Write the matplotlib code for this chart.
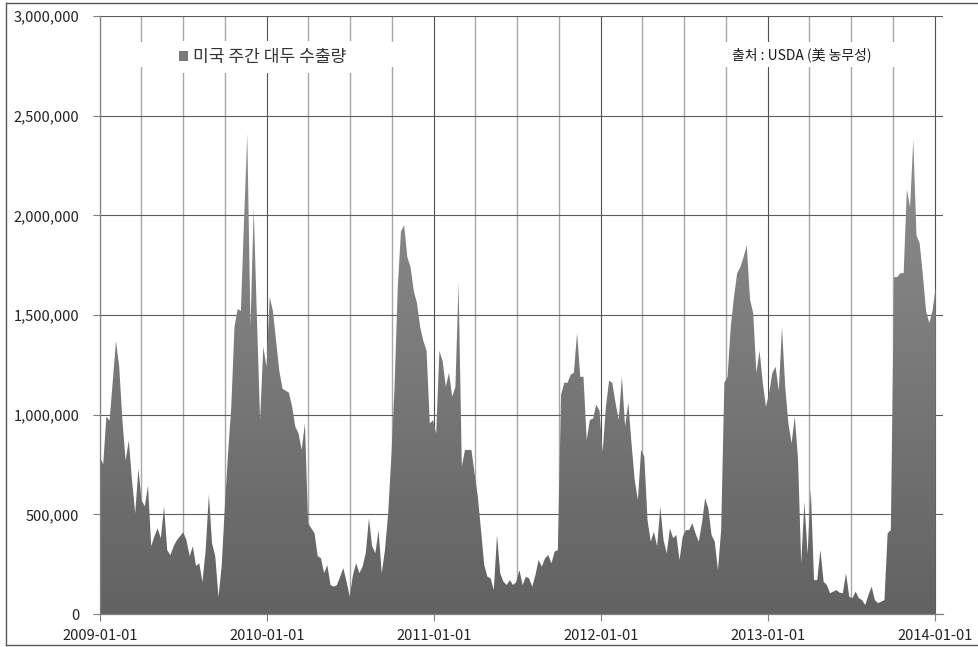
import numpy as np
import pandas as pd
import matplotlib
matplotlib.use("Agg")
import matplotlib.pyplot as plt
import matplotlib.dates as mdates
from matplotlib.ticker import FuncFormatter, FixedLocator
from matplotlib.colors import LinearSegmentedColormap
from matplotlib.lines import Line2D
from matplotlib.patches import Patch, Rectangle

plt.rcParams['font.family'] = ['Noto Sans CJK KR', 'DejaVu Sans']

# Weekly US soybean export volumes (tonnes), one value per week from 2009-01-01
first_week = "2009-01-01"
weekly_exports = [
    790000, 750000, 990000, 970000, 1170000, 1370000, 1240000, 970000, 770000, 870000,
    670000, 505000, 730000, 570000, 540000, 645000, 340000, 390000, 430000, 380000,
    540000, 320000, 295000, 340000, 370000, 390000, 410000, 370000, 290000, 340000,
    240000, 255000, 160000, 320000, 600000, 355000, 290000, 85000, 240000, 540000,
    805000, 1040000, 1440000, 1530000, 1520000, 1980000, 2410000, 1440000, 2040000, 1490000,
    973000, 1340000, 1240000, 1590000, 1520000, 1370000, 1220000, 1130000, 1120000, 1110000,
    1040000, 940000, 906000, 823000, 956000, 455000, 430000, 405000, 290000, 280000,
    205000, 245000, 145000, 137000, 145000, 187000, 230000, 162000, 87000, 195000,
    255000, 205000, 237000, 305000, 480000, 340000, 305000, 420000, 204000, 321000,
    505000, 790000, 1140000, 1640000, 1920000, 1950000, 1790000, 1740000, 1620000, 1560000,
    1440000, 1370000, 1320000, 956000, 973000, 906000, 1320000, 1270000, 1140000, 1210000,
    1090000, 1140000, 1660000, 740000, 823000, 823000, 823000, 705000, 589000, 421000,
    246000, 187000, 179000, 120000, 396000, 204000, 162000, 145000, 170000, 145000,
    160000, 220000, 145000, 187000, 179000, 137000, 196000, 271000, 237000, 279000,
    296000, 254000, 313000, 321000, 1100000, 1160000, 1160000, 1200000, 1210000, 1410000,
    1190000, 1190000, 873000, 973000, 981000, 1050000, 1020000, 814000, 1040000, 1170000,
    1160000, 1060000, 973000, 1190000, 940000, 1060000, 856000, 672000, 572000, 823000,
    789000, 471000, 363000, 413000, 340000, 538000, 371000, 304000, 430000, 380000,
    396000, 271000, 388000, 421000, 421000, 455000, 405000, 363000, 455000, 580000,
    530000, 396000, 363000, 220000, 421000, 1160000, 1190000, 1440000, 1590000, 1710000,
    1740000, 1790000, 1850000, 1580000, 1510000, 1210000, 1320000, 1160000, 1040000, 1110000,
    1210000, 1240000, 1120000, 1440000, 1140000, 956000, 856000, 990000, 780000, 254000,
    563000, 300000, 630000, 170000, 170000, 321000, 162000, 145000, 104000, 112000,
    120000, 107000, 104000, 204000, 87000, 79000, 112000, 79000, 70000, 45000,
    95000, 137000, 70000, 54000, 62000, 70000, 405000, 421000, 1690000, 1690000,
    1710000, 1710000, 2130000, 2040000, 2380000, 1900000, 1860000, 1700000, 1520000, 1460000,
    1520000, 1640000,
]
week_dates = pd.date_range(first_week, periods=len(weekly_exports), freq="7D")

series_label = "미국 주간 대두 수출량"
source_note = "출처 : USDA (美 농무성)"
y_ticks = [0, 500000, 1000000, 1500000, 2000000, 2500000, 3000000]
x_start, x_end = pd.Timestamp("2009-01-01"), pd.Timestamp("2014-01-18")

fig = plt.figure(figsize=(9.79, 6.47), dpi=100)
ax = fig.add_axes([100 / 979, 1 - 614 / 647, 843 / 979, 598 / 647])

# area under the weekly series, filled with a vertical grey gradient
area = ax.fill_between(week_dates, weekly_exports, 0, facecolor="none",
                       edgecolor="none", zorder=2)
xnum = mdates.date2num(week_dates)
shade = LinearSegmentedColormap.from_list("shade", ["#626262", "#9a9a9a"])
grad = np.linspace(0, 1, 256).reshape(-1, 1)
img = ax.imshow(grad, cmap=shade, origin="lower", aspect="auto",
                extent=[xnum[0], xnum[-1], 0, y_ticks[-1]],
                interpolation="bilinear", zorder=2)
img.set_clip_path(area.get_paths()[0], transform=ax.transData)

ax.set_xlim(x_start, x_end)
ax.set_ylim(0, y_ticks[-1])
ax.set_aspect("auto")

# axes, ticks and grid
ax.yaxis.set_major_locator(FixedLocator(y_ticks))
ax.yaxis.set_major_formatter(FuncFormatter(lambda v, p: f"{v:,.0f}"))
ax.xaxis.set_major_locator(mdates.YearLocator())
ax.xaxis.set_minor_locator(mdates.MonthLocator(bymonth=[4, 7, 10]))
ax.xaxis.set_major_formatter(mdates.DateFormatter("%Y-%m-%d"))

ax.set_axisbelow(True)
ax.grid(True, axis="y", which="major", color="#5c5c5c", lw=0.8)
ax.grid(True, axis="x", which="major", color="#505050", lw=0.8)
ax.grid(True, axis="x", which="minor", color="#a8a8a8", lw=1.0)

for side in ("top", "right"):
    ax.spines[side].set_visible(False)
for side in ("left", "bottom"):
    ax.spines[side].set_color("#808080")
    ax.spines[side].set_linewidth(0.9)

ax.tick_params(axis="y", which="major", length=5, width=0.8, color="#808080",
               pad=10, labelsize=10.5, labelcolor="#222222")
ax.tick_params(axis="x", which="major", length=5, width=0.8, color="#808080",
               pad=6, labelsize=10.5, labelcolor="#222222")
ax.tick_params(axis="x", which="minor", length=0)

# white backing boxes behind the legend and the source note
for x0, x1 in ((125, 415), (700, 915)):
    ax.add_patch(Rectangle(((x0 - 100) / 843, (614 - 67) / 598), (x1 - x0) / 843, 25 / 598,
                           transform=ax.transAxes, facecolor="white", edgecolor="none",
                           zorder=1))

leg = ax.legend(handles=[Patch(facecolor="#7a7a7a", edgecolor="none", label=series_label)],
                loc="center left", bbox_to_anchor=(0.086, 0.931), frameon=True,
                facecolor="white", edgecolor="none", framealpha=1, fontsize=12.3,
                handlelength=0.5, handleheight=0.5, handletextpad=0.3,
                borderpad=0.4, borderaxespad=0)
for t in leg.get_texts():
    t.set_color("#333333")

ax.text(0.750, 0.935, source_note, transform=ax.transAxes, ha="left", va="center",
        fontsize=10, color="#1a1a1a", zorder=5)

# outer frame lines
frame_col = "#5a5a5a"
fig.add_artist(Line2D([6 / 979, 1.0], [1 - 3 / 647, 1 - 3 / 647], color=frame_col, lw=1.0))
fig.add_artist(Line2D([6 / 979, 1.0], [1 - 645 / 647, 1 - 645 / 647], color=frame_col, lw=1.0))
fig.add_artist(Line2D([6 / 979, 6 / 979], [1 - 3 / 647, 1 - 645 / 647], color=frame_col, lw=1.0))

fig.savefig("out.png", dpi=100, facecolor="white")
